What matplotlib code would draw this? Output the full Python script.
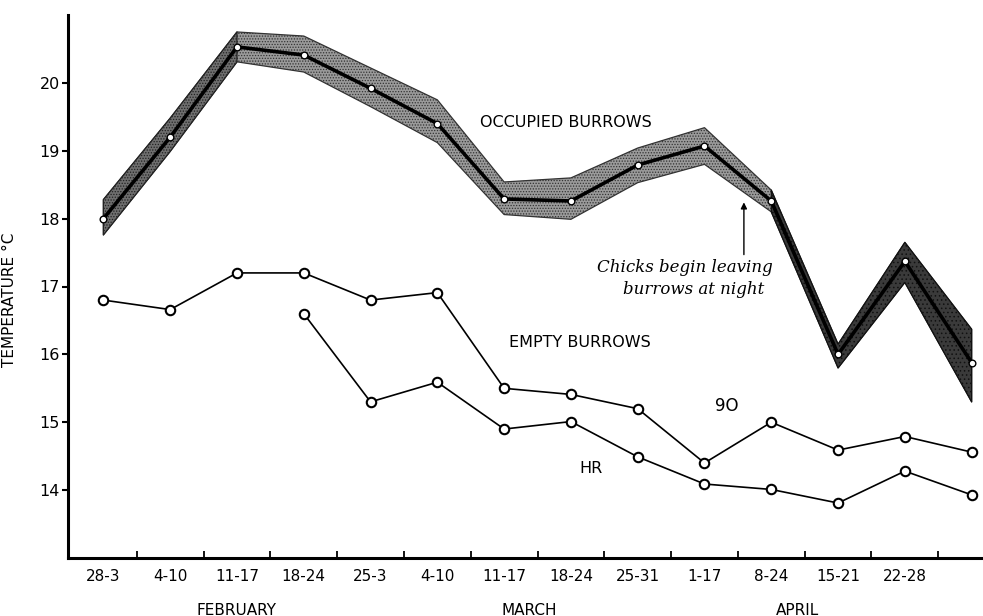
import matplotlib
matplotlib.use("Agg")
import matplotlib.pyplot as plt
import numpy as np
from matplotlib.transforms import blended_transform_factory

# ---- data ----
weeks = ["28-3", "4-10", "11-17", "18-24", "25-3", "4-10", "11-17",
         "18-24", "25-31", "1-17", "8-24", "15-21", "22-28", ""]
months = ["FEBRUARY", "MARCH", "APRIL"]
month_pos = [2.0, 6.38, 10.4]

occupied = [18.0, 19.2, 20.53, 20.41, 19.92, 19.4, 18.29, 18.26, 18.79,
            19.07, 18.26, 16.0, 17.37, 15.88]
occ_upper = [18.28, 19.48, 20.75, 20.69, 20.22, 19.75, 18.54, 18.6, 19.04,
             19.34, 18.42, 16.15, 17.65, 16.37]
occ_lower = [17.76, 18.99, 20.31, 20.16, 19.65, 19.12, 18.06, 17.99, 18.53,
             18.8, 18.1, 15.8, 17.06, 15.3]
empty_90 = [16.8, 16.66, 17.2, 17.2, 16.8, 16.91, 15.5, 15.41, 15.2, 14.4,
            15.0, 14.59, 14.79, 14.56]
empty_hr = [np.nan, np.nan, np.nan, 16.6, 15.3, 15.59, 14.9, 15.01, 14.49,
            14.09, 14.01, 13.81, 14.28, 13.93]

x = np.arange(len(weeks))

plt.rcParams["font.family"] = ["DejaVu Sans"]
plt.rcParams["hatch.linewidth"] = 0.6

fig = plt.figure(figsize=(9.83, 6.16), dpi=100)
ax = fig.add_axes([68/983, 58/616, 915/983, 543/616])

# shaded band: medium tone, darker at the start and in April
lo = np.array(occ_lower)
up = np.array(occ_upper)
ax.fill_between(x, lo, up, facecolor="#9a9a9a",
                edgecolor="#333333", hatch="......", linewidth=0.9, zorder=2)
s0 = slice(0, 3)
ax.fill_between(x[s0], lo[s0], up[s0], facecolor="#6e6e6e",
                edgecolor="#222222", hatch="......", linewidth=0.9, zorder=2)
sl = slice(10, 14)
ax.fill_between(x[sl], lo[sl], up[sl],
                facecolor="#3a3a3a", edgecolor="#111111", hatch="....",
                linewidth=0.9, zorder=2)

ax.plot(x, occupied, color="black", lw=2.6, marker="o", ms=4.8,
        mfc="white", mec="black", mew=1.0, zorder=4)

ax.plot(x, empty_90, color="black", lw=1.2, marker="o", ms=6.8,
        mfc="white", mec="black", mew=1.5, zorder=3)
ax.plot(x, empty_hr, color="black", lw=1.2, marker="o", ms=6.8,
        mfc="white", mec="black", mew=1.5, zorder=3)

ax.set_xlim(-0.53, 13.17)
ax.set_ylim(13, 21)

for s in ["top", "right"]:
    ax.spines[s].set_visible(False)
ax.spines["left"].set_linewidth(2.2)
ax.spines["bottom"].set_linewidth(2.2)

ax.set_yticks([14, 15, 16, 17, 18, 19, 20])
ax.tick_params(axis="y", direction="out", length=4, width=1.5, pad=2,
               labelsize=11.5)
ax.set_xticks(x)
ax.set_xticklabels(weeks)
ax.tick_params(axis="x", which="major", length=0, pad=8, labelsize=11)
ax.set_xticks(x[:-1] + 0.5, minor=True)
ax.tick_params(axis="x", which="minor", direction="in", length=5, width=1.3)

ax.set_ylabel("TEMPERATURE °C", fontsize=11)
ax.yaxis.set_label_coords(-0.056, 0.475)

trans = blended_transform_factory(ax.transData, ax.transAxes)
for m, p in zip(months, month_pos):
    ax.text(p, -0.096, m, transform=trans, ha="center", va="center",
            fontsize=11)

ax.text(6.92, 19.41, "OCCUPIED BURROWS", ha="center", va="center", fontsize=11.5)
ax.text(7.13, 16.18, "EMPTY BURROWS", ha="center", va="center", fontsize=11.5)
ax.text(9.33, 15.24, "9O", ha="center", va="center", fontsize=12)
ax.text(7.3, 14.32, "HR", ha="center", va="center", fontsize=11.5)
ax.text(8.7, 17.28, "Chicks begin leaving", ha="center", va="center",
        fontsize=12, family="DejaVu Serif", style="italic")
ax.text(8.84, 16.96, "burrows at night", ha="center", va="center",
        fontsize=12, family="DejaVu Serif", style="italic")
ax.annotate("", xy=(9.59, 18.24), xytext=(9.59, 17.47),
            arrowprops=dict(arrowstyle="-|>", color="black", lw=1.0,
                            mutation_scale=9, shrinkA=0, shrinkB=0))

fig.savefig("out.png", dpi=100)
